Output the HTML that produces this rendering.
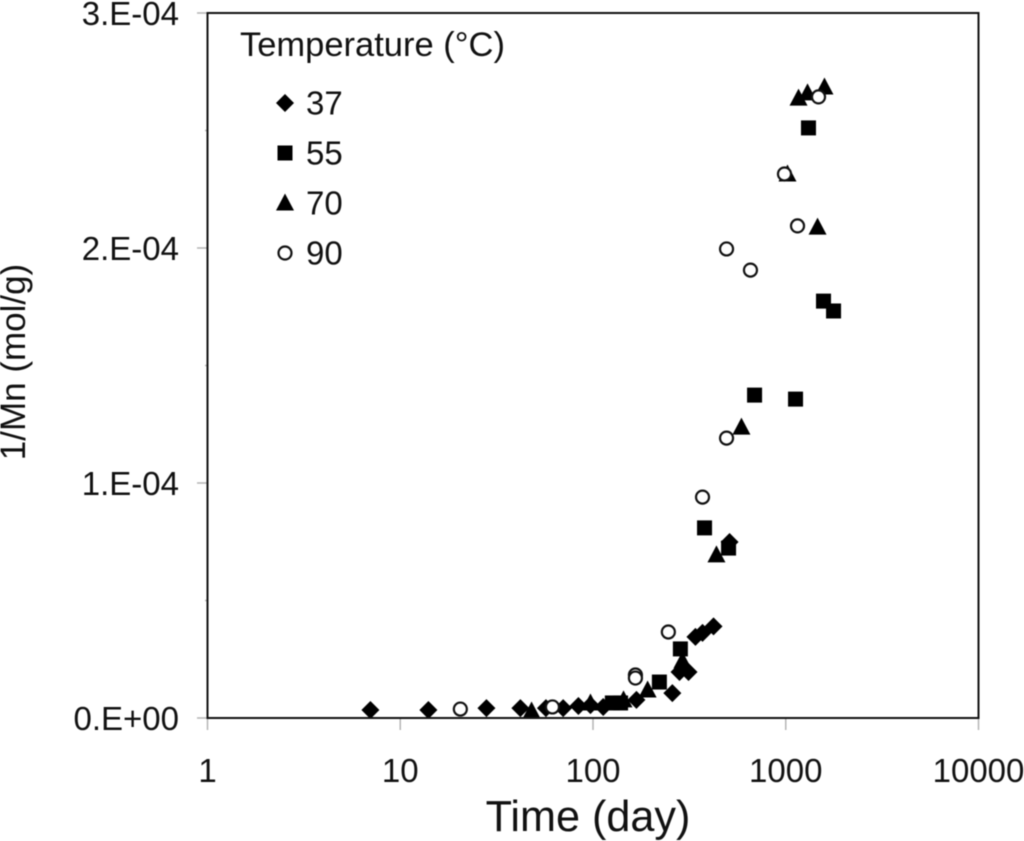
<!DOCTYPE html>
<html lang="en">
<head>
<meta charset="utf-8">
<title>1/Mn versus time</title>
<style>
html,body{margin:0;padding:0;background:#fff;}
svg{display:block;font-family:"Liberation Sans",sans-serif;fill:#111;filter:blur(0.4px);}
</style>
</head>
<body>
<svg id="chart" xmlns="http://www.w3.org/2000/svg" width="1024" height="841" viewBox="0 0 1024 841">
  <rect x="0" y="0" width="1024" height="841" fill="#fff"/>
  <g id="ticks"></g>
  <g id="series"></g>
  <rect x="207.5" y="13" width="771" height="705" fill="none" stroke="#111" stroke-width="2"/>
  <g id="tick-labels"></g>
  <text x="588" y="831" font-size="43.2" text-anchor="middle">Time (day)</text>
  <text transform="translate(25,362) rotate(-90)" font-size="35" text-anchor="middle">1/Mn (mol/g)</text>
  <text x="240" y="56" font-size="34.5">Temperature (°C)</text>
  <g id="legend"></g>
</svg>
<script>
const xTicks = [1, 10, 100, 1000, 10000];
const yMajorTicks = [0, 1e-4, 2e-4, 3e-4];
const yMinorTicks = [0.5e-4, 1.5e-4, 2.5e-4];
const yTickLabels = ["0.E+00", "1.E-04", "2.E-04", "3.E-04"];

const legendLabels = ["37", "55", "70", "90"];

const time37 = [7, 14, 28, 42, 57, 70, 84, 97, 113, 168, 258, 281, 313, 340, 370, 422, 511];
const mn37 = [3.4e-6, 3.4e-6, 4.2e-6, 4.2e-6, 4.2e-6, 4.2e-6, 5.1e-6, 5.5e-6, 4.7e-6, 7.7e-6, 1.06e-5, 1.96e-5, 1.96e-5, 3.45e-5, 3.62e-5, 3.9e-5, 7.49e-5];

const time55 = [126, 139, 221, 284, 379, 505, 689, 1124, 1312, 1570, 1770];
const mn55 = [6.4e-6, 6.4e-6, 1.53e-5, 2.94e-5, 8.09e-5, 7.23e-5, 1.374e-4, 1.357e-4, 2.511e-4, 1.774e-4, 1.732e-4];

const time70 = [48, 97, 144, 192, 291, 437, 589, 1021, 1462, 1165, 1297, 1588];
const mn70 = [3.0e-6, 6.4e-6, 7.7e-6, 1.19e-5, 2.43e-5, 6.94e-5, 1.238e-4, 2.315e-4, 2.089e-4, 2.638e-4, 2.66e-4, 2.685e-4];

const time90 = [20.5, 61.6, 166, 166, 246, 370, 493, 493, 656, 985, 1151, 1479];
const mn90 = [3.8e-6, 4.7e-6, 1.83e-5, 1.7e-5, 3.66e-5, 9.4e-5, 1.191e-4, 1.996e-4, 1.906e-4, 2.315e-4, 2.094e-4, 2.643e-4];

const NS = "http://www.w3.org/2000/svg";
const X_LEFT = 207.5, X_RIGHT = 978.5, Y_BOTTOM = 718, Y_TOP = 13;
const X_MIN = 1, X_MAX = 10000, Y_MIN = 0, Y_MAX = 3e-4;

function xScale(v) {
  return X_LEFT + (Math.log10(v) - Math.log10(X_MIN)) / (Math.log10(X_MAX) - Math.log10(X_MIN)) * (X_RIGHT - X_LEFT);
}
function yScale(v) {
  return Y_BOTTOM - (v - Y_MIN) / (Y_MAX - Y_MIN) * (Y_BOTTOM - Y_TOP);
}
function make(tag, attrs) {
  const el = document.createElementNS(NS, tag);
  for (const k in attrs) el.setAttribute(k, attrs[k]);
  return el;
}
function markerShape(kind, cx, cy) {
  if (kind === "diamond") {
    return make("polygon", {points: [cx, cy - 9, cx + 9, cy, cx, cy + 9, cx - 9, cy].join(" "), fill: "#000"});
  }
  if (kind === "square") {
    return make("rect", {x: cx - 7.5, y: cy - 7.5, width: 15, height: 15, fill: "#000"});
  }
  if (kind === "triangle") {
    return make("polygon", {points: [cx, cy - 9.5, cx + 9, cy + 7.5, cx - 9, cy + 7.5].join(" "), fill: "#000"});
  }
  return make("circle", {cx: cx, cy: cy, r: 6.5, fill: "#fff", stroke: "#111", "stroke-width": 2.2});
}

const ticksGroup = document.getElementById("ticks");
const labelsGroup = document.getElementById("tick-labels");
const seriesGroup = document.getElementById("series");
const legendGroup = document.getElementById("legend");

xTicks.forEach(function (t) {
  const x = xScale(t);
  const tick = make("line", {x1: x, x2: x, y1: Y_BOTTOM, y2: 730, stroke: "#b5b5b5", "stroke-width": 1.5});
  
  
  ticksGroup.appendChild(tick);
  const label = make("text", {x: x, y: 782, "font-size": 33, "text-anchor": "middle"});
  label.textContent = String(t);
  
  
  labelsGroup.appendChild(label);
});

yMajorTicks.forEach(function (t, i) {
  const y = yScale(t);
  const tick = make("line", {x1: 197, x2: X_LEFT, y1: y, y2: y, stroke: "#b5b5b5", "stroke-width": 1.5});
  
  
  ticksGroup.appendChild(tick);
  const label = make("text", {x: 179, y: y + 12, "font-size": 33, "text-anchor": "end"});
  label.textContent = yTickLabels[i];
  
  
  labelsGroup.appendChild(label);
});

yMinorTicks.forEach(function (t) {
  const y = yScale(t);
  const tick = make("line", {x1: 205, x2: X_LEFT, y1: y, y2: y, stroke: "#b5b5b5", "stroke-width": 1.5});
  
  
  ticksGroup.appendChild(tick);
});

function drawSeries(kind, times, values) {
  const g = make("g", {});
  
  
  times.forEach(function (t, i) {
    const m = markerShape(kind, xScale(t), yScale(values[i]));
    
    
    g.appendChild(m);
  });
  seriesGroup.appendChild(g);
}
drawSeries("diamond", time37, mn37);
drawSeries("square", time55, mn55);
drawSeries("triangle", time70, mn70);
drawSeries("circle", time90, mn90);

const legendKinds = ["diamond", "square", "triangle", "circle"];
legendLabels.forEach(function (txt, i) {
  const cy = 103 + i * 50;
  const m = markerShape(legendKinds[i], 285, cy);
  
  
  legendGroup.appendChild(m);
  const label = make("text", {x: 306, y: cy + 11.5, "font-size": 33});
  label.textContent = txt;
  
  
  legendGroup.appendChild(label);
});
</script>
</body>
</html>
